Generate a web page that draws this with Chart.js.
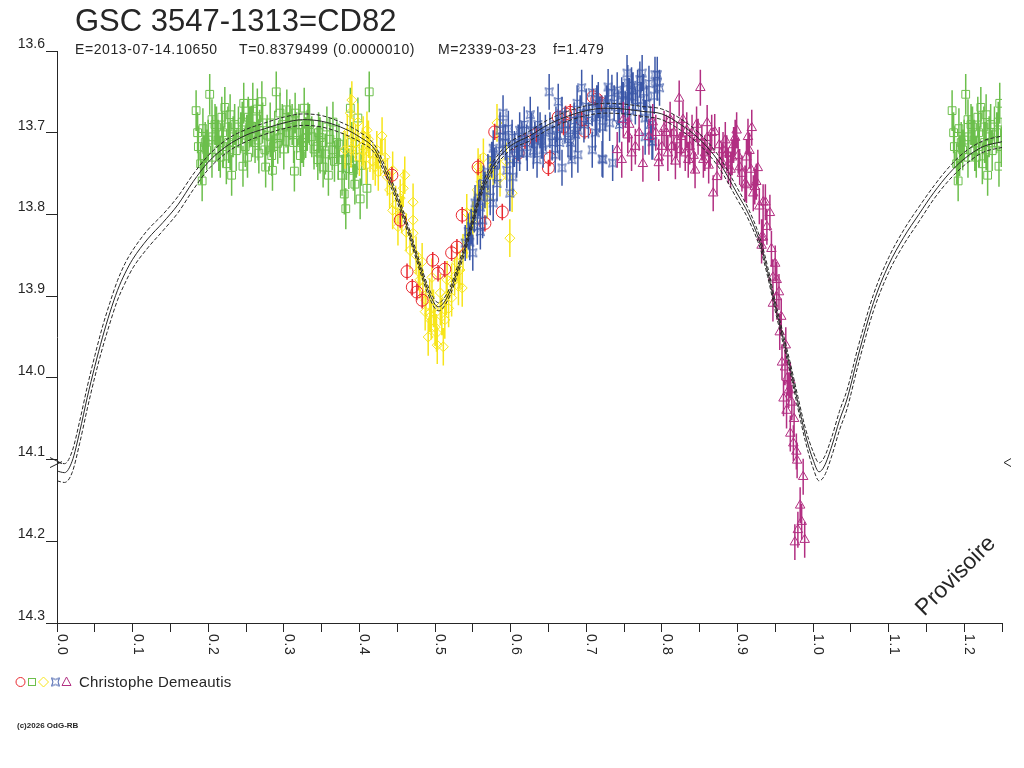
<!DOCTYPE html>
<html>
<head>
<meta charset="utf-8">
<title>GSC 3547-1313=CD82</title>
<script src="https://cdn.jsdelivr.net/npm/chart.js@4.4.1/dist/chart.umd.min.js"></script>
<style>
    html, body { margin: 0; padding: 0; background: #fff; }
    #wrap { position: relative; width: 1024px; height: 768px; }
</style>
</head>
<body>
<div id="wrap"><canvas id="lightCurve" width="1024" height="768"></canvas></div>
<script>
// Axis ticks
const xTickValues = [0, 0.05, 0.1, 0.15, 0.2, 0.25, 0.3, 0.35, 0.4, 0.45, 0.5, 0.55, 0.6,
    0.65, 0.7, 0.75, 0.8, 0.85, 0.9, 0.95, 1.0, 1.05, 1.1, 1.15, 1.2, 1.25];
const xLabelValues = [0, 0.1, 0.2, 0.3, 0.4, 0.5, 0.6, 0.7, 0.8, 0.9, 1.0, 1.1, 1.2];
const xLabels = ['0.0', '0.1', '0.2', '0.3', '0.4', '0.5', '0.6', '0.7', '0.8', '0.9', '1.0', '1.1', '1.2'];
const yTickValues = [13.6, 13.7, 13.8, 13.9, 14.0, 14.1, 14.2, 14.3];

// Model light curve (phase, mean, bright bound, faint bound)
const curvePhase = [0.000, 0.010, 0.020, 0.030, 0.040, 0.050, 0.060, 0.070, 0.080, 0.090, 0.100, 0.120,
    0.140, 0.160, 0.180, 0.200, 0.225, 0.250, 0.275, 0.300, 0.325, 0.350, 0.375, 0.400, 0.420, 0.435,
    0.450, 0.465, 0.480, 0.490, 0.500, 0.505, 0.510, 0.520, 0.530, 0.540, 0.550, 0.560, 0.570, 0.585,
    0.600, 0.625, 0.650, 0.675, 0.700, 0.725, 0.750, 0.775, 0.800, 0.825, 0.850, 0.875, 0.900, 0.915,
    0.930, 0.940, 0.950, 0.960, 0.970, 0.980, 0.990, 1.000, 1.008, 1.015, 1.025, 1.035, 1.045, 1.060,
    1.080, 1.100, 1.120, 1.140, 1.160, 1.180, 1.200, 1.225, 1.250];
const curveMid = [14.114, 14.116, 14.102, 14.066, 14.024, 13.986, 13.951, 13.920, 13.893, 13.872, 13.855, 13.830,
    13.810, 13.788, 13.760, 13.736, 13.716, 13.703, 13.695, 13.688, 13.684, 13.686, 13.693, 13.705, 13.720, 13.748,
    13.780, 13.820, 13.864, 13.891, 13.910, 13.913, 13.910, 13.894, 13.868, 13.840, 13.808, 13.775, 13.752, 13.730,
    13.716, 13.704, 13.690, 13.680, 13.673, 13.670, 13.671, 13.674, 13.677, 13.690, 13.708, 13.735, 13.775, 13.800,
    13.835, 13.870, 13.912, 13.950, 13.988, 14.030, 14.070, 14.100, 14.115, 14.108, 14.083, 14.052, 14.026, 13.972,
    13.908, 13.862, 13.828, 13.800, 13.773, 13.750, 13.732, 13.717, 13.711];
const curveBright = [14.103, 14.105, 14.090, 14.053, 14.011, 13.973, 13.938, 13.908, 13.881, 13.860, 13.844, 13.819,
    13.800, 13.778, 13.751, 13.728, 13.708, 13.696, 13.688, 13.681, 13.677, 13.679, 13.687, 13.699, 13.715, 13.743,
    13.775, 13.815, 13.859, 13.886, 13.905, 13.908, 13.905, 13.889, 13.863, 13.835, 13.803, 13.770, 13.747, 13.725,
    13.711, 13.698, 13.684, 13.674, 13.667, 13.664, 13.665, 13.668, 13.671, 13.683, 13.701, 13.728, 13.768, 13.794,
    13.829, 13.864, 13.906, 13.944, 13.982, 14.023, 14.062, 14.090, 14.104, 14.097, 14.072, 14.041, 14.015, 13.961,
    13.898, 13.853, 13.819, 13.791, 13.765, 13.742, 13.724, 13.710, 13.704];
const curveFaint = [14.126, 14.128, 14.116, 14.080, 14.038, 13.999, 13.964, 13.933, 13.905, 13.884, 13.866, 13.841,
    13.820, 13.798, 13.770, 13.745, 13.724, 13.711, 13.702, 13.695, 13.691, 13.693, 13.700, 13.711, 13.725, 13.753,
    13.785, 13.825, 13.869, 13.896, 13.915, 13.918, 13.915, 13.899, 13.873, 13.845, 13.813, 13.780, 13.757, 13.735,
    13.721, 13.710, 13.696, 13.686, 13.679, 13.676, 13.677, 13.680, 13.684, 13.697, 13.715, 13.742, 13.782, 13.807,
    13.841, 13.876, 13.918, 13.956, 13.994, 14.037, 14.078, 14.110, 14.126, 14.120, 14.095, 14.064, 14.038, 13.983,
    13.918, 13.871, 13.837, 13.809, 13.781, 13.758, 13.740, 13.724, 13.718];

// Observations: red circles
const redPhase = [0.443, 0.454, 0.463, 0.476, 0.483, 0.497, 0.504, 0.513, 0.522, 0.529, 0.536, 0.589,
    0.566, 0.579, 0.557, 0.673, 0.709, 0.720, 0.610, 0.619, 0.663, 0.679, 0.670, 0.652, 0.650, 0.698,
    0.714, 0.694, 0.634, 0.470];
const redMag = [13.752, 13.807, 13.870, 13.895, 13.905, 13.856, 13.872, 13.867, 13.847, 13.840, 13.801, 13.797,
    13.811, 13.699, 13.742, 13.677, 13.656, 13.664, 13.725, 13.710, 13.681, 13.675, 13.693, 13.731, 13.743, 13.698,
    13.659, 13.684, 13.702, 13.889];

// green squares
const greenPhase = [0.202, 0.184, 0.205, 0.193, 0.187, 0.190, 0.192, 0.205, 0.206, 0.218, 0.222, 0.229,
    0.231, 0.246, 0.247, 0.259, 0.271, 0.265, 0.264, 0.253, 0.240, 0.233, 0.220, 0.213, 0.251, 0.259,
    0.268, 0.276, 0.285, 0.290, 0.282, 0.295, 0.304, 0.308, 0.295, 0.303, 0.286, 0.315, 0.327, 0.314,
    0.324, 0.317, 0.331, 0.337, 0.344, 0.345, 0.352, 0.359, 0.365, 0.370, 0.377, 0.380, 0.394, 0.401,
    0.413, 0.398, 0.388, 0.383, 0.410, 0.392, 0.357, 0.348, 0.275, 0.282, 0.229, 0.216, 0.198, 0.196,
    0.211, 0.226, 0.245, 0.255, 0.266, 0.326, 0.332, 0.348, 0.364, 0.372, 0.382,
    0.186, 0.194, 0.200, 0.209, 0.214, 0.219, 0.224, 0.227, 0.235, 0.237, 0.243, 0.249, 0.252, 0.257,
    0.262, 0.267, 0.272, 0.278, 0.284, 0.288, 0.292, 0.298, 0.300, 0.306, 0.311, 0.313, 0.320, 0.322,
    0.329, 0.334, 0.340, 0.346, 0.351, 0.355, 0.361, 0.367, 0.373, 0.379, 0.386, 0.390, 0.396, 0.403];
const greenMag = [13.653, 13.673, 13.684, 13.695, 13.717, 13.738, 13.759, 13.730, 13.705, 13.681, 13.669, 13.678,
    13.752, 13.741, 13.664, 13.664, 13.662, 13.671, 13.683, 13.681, 13.693, 13.705, 13.717, 13.709, 13.703, 13.705,
    13.697, 13.742, 13.746, 13.650, 13.688, 13.676, 13.672, 13.684, 13.706, 13.693, 13.717, 13.676, 13.670, 13.747,
    13.712, 13.700, 13.697, 13.705, 13.717, 13.733, 13.742, 13.752, 13.687, 13.712, 13.752, 13.775, 13.763, 13.781,
    13.650, 13.682, 13.670, 13.733, 13.768, 13.746, 13.693, 13.725, 13.721, 13.705, 13.721, 13.730, 13.721, 13.712,
    13.693, 13.693, 13.687, 13.693, 13.709, 13.717, 13.688, 13.706, 13.721, 13.733, 13.793,
    13.700, 13.728, 13.709, 13.690, 13.722, 13.700, 13.738, 13.712, 13.690, 13.722, 13.700, 13.717, 13.730, 13.692,
    13.712, 13.725, 13.688, 13.703, 13.728, 13.698, 13.713, 13.690, 13.720, 13.700, 13.690, 13.712, 13.690, 13.728,
    13.706, 13.690, 13.720, 13.700, 13.712, 13.726, 13.708, 13.735, 13.714, 13.725, 13.744, 13.712, 13.730, 13.740];

// yellow diamonds
const yellowPhase = [0.388, 0.381, 0.398, 0.405, 0.430, 0.414, 0.421, 0.437, 0.458, 0.444, 0.451, 0.471,
    0.471, 0.467, 0.483, 0.478, 0.484, 0.493, 0.493, 0.500, 0.491, 0.511, 0.513, 0.507, 0.522, 0.522,
    0.536, 0.533, 0.537, 0.542, 0.550, 0.556, 0.556, 0.557, 0.573, 0.569, 0.582, 0.602, 0.599, 0.460,
    0.471, 0.454, 0.496, 0.507, 0.487, 0.516, 0.529, 0.542, 0.560, 0.564, 0.423, 0.404, 0.410, 0.392,
    0.444, 0.434, 0.503, 0.390,
    0.384, 0.389, 0.395, 0.400, 0.406, 0.409, 0.412, 0.418, 0.425, 0.428, 0.440, 0.448, 0.456, 0.462,
    0.475, 0.480, 0.488, 0.495, 0.498, 0.502, 0.509, 0.515, 0.518, 0.526, 0.531, 0.546, 0.552, 0.561,
    0.566, 0.577, 0.586, 0.594];
const yellowMag = [13.676, 13.721, 13.687, 13.703, 13.704, 13.725, 13.742, 13.754, 13.768, 13.795, 13.815, 13.807,
    13.823, 13.844, 13.858, 13.870, 13.890, 13.901, 13.921, 13.938, 13.950, 13.962, 13.929, 13.913, 13.902, 13.883,
    13.890, 13.868, 13.847, 13.831, 13.807, 13.791, 13.770, 13.742, 13.752, 13.782, 13.688, 13.774, 13.829, 13.752,
    13.785, 13.780, 13.877, 13.896, 13.919, 13.880, 13.859, 13.798, 13.749, 13.730, 13.721, 13.717, 13.697, 13.705,
    13.746, 13.730, 13.960, 13.660,
    13.700, 13.720, 13.712, 13.730, 13.722, 13.740, 13.708, 13.735, 13.748, 13.730, 13.770, 13.788, 13.800, 13.822,
    13.850, 13.880, 13.905, 13.930, 13.915, 13.945, 13.925, 13.900, 13.915, 13.876, 13.888, 13.820, 13.795, 13.760,
    13.770, 13.742, 13.755, 13.735];

// blue stars
const bluePhase = [0.651, 0.663, 0.694, 0.729, 0.734, 0.741, 0.754, 0.760, 0.774, 0.794, 0.747, 0.762,
    0.708, 0.714, 0.722, 0.688, 0.689, 0.679, 0.708, 0.721, 0.735, 0.689, 0.681, 0.668, 0.659, 0.643,
    0.632, 0.628, 0.626, 0.612, 0.610, 0.602, 0.590, 0.590, 0.577, 0.575, 0.599, 0.608, 0.603, 0.599,
    0.582, 0.573, 0.577, 0.560, 0.553, 0.560, 0.546, 0.540, 0.550, 0.612, 0.639, 0.652, 0.668, 0.714,
    0.718, 0.742, 0.755, 0.778, 0.778, 0.788, 0.708, 0.755, 0.771, 0.762, 0.780, 0.727, 0.679, 0.665,
    0.635, 0.622, 0.590, 0.586, 0.595, 0.564, 0.563, 0.556, 0.544, 0.791, 0.794, 0.787, 0.722,
    0.548, 0.552, 0.558, 0.566, 0.570, 0.579, 0.585, 0.593, 0.597, 0.605, 0.615, 0.618, 0.621, 0.630,
    0.636, 0.641, 0.646, 0.655, 0.660, 0.662, 0.672, 0.676, 0.684, 0.686, 0.692, 0.697, 0.700, 0.703,
    0.712, 0.716, 0.725, 0.731, 0.737, 0.744, 0.749, 0.752, 0.757, 0.765, 0.768, 0.772, 0.776, 0.783,
    0.785, 0.790, 0.797];
const blueMag = [13.650, 13.662, 13.645, 13.644, 13.651, 13.648, 13.627, 13.642, 13.627, 13.629, 13.654, 13.656,
    13.670, 13.681, 13.693, 13.664, 13.697, 13.697, 13.721, 13.732, 13.737, 13.727, 13.733, 13.743, 13.727, 13.721,
    13.709, 13.697, 13.678, 13.697, 13.712, 13.706, 13.688, 13.705, 13.719, 13.733, 13.733, 13.733, 13.754, 13.774,
    13.762, 13.779, 13.786, 13.791, 13.786, 13.821, 13.834, 13.835, 13.847, 13.725, 13.697, 13.697, 13.678, 13.664,
    13.678, 13.669, 13.681, 13.682, 13.705, 13.711, 13.651, 13.639, 13.635, 13.648, 13.664, 13.664, 13.712, 13.712,
    13.733, 13.725, 13.676, 13.697, 13.746, 13.762, 13.807, 13.815, 13.821, 13.629, 13.639, 13.711, 13.733,
    13.815, 13.800, 13.780, 13.770, 13.748, 13.740, 13.722, 13.712, 13.695, 13.720, 13.708, 13.690, 13.712, 13.722,
    13.690, 13.710, 13.700, 13.712, 13.690, 13.703, 13.690, 13.708, 13.685, 13.702, 13.676, 13.690, 13.668, 13.685,
    13.700, 13.660, 13.676, 13.688, 13.664, 13.690, 13.660, 13.672, 13.655, 13.668, 13.645, 13.660, 13.650, 13.640,
    13.690, 13.655, 13.645];

// purple triangles
const purplePhase = [0.851, 0.823, 0.749, 0.765, 0.741, 0.755, 0.747, 0.796, 0.796, 0.788, 0.811, 0.806,
    0.820, 0.828, 0.835, 0.844, 0.846, 0.860, 0.870, 0.853, 0.864, 0.873, 0.868, 0.884, 0.893, 0.899,
    0.897, 0.919, 0.914, 0.912, 0.903, 0.910, 0.923, 0.927, 0.921, 0.934, 0.943, 0.934, 0.888, 0.881,
    0.833, 0.813, 0.800, 0.837, 0.860, 0.855, 0.824, 0.912, 0.937, 0.932, 0.932, 0.947, 0.952, 0.952,
    0.947, 0.956, 0.959, 0.963, 0.970, 0.961, 0.965, 0.972, 0.970, 0.974, 0.979, 0.987, 0.983, 0.985,
    0.980, 0.976, 0.989,
    0.757, 0.760, 0.770, 0.775, 0.783, 0.792, 0.803, 0.808, 0.816, 0.818, 0.826, 0.831, 0.840, 0.842,
    0.848, 0.857, 0.862, 0.866, 0.876, 0.879, 0.886, 0.891, 0.895, 0.901, 0.906, 0.916, 0.918, 0.925,
    0.929, 0.939, 0.945, 0.950, 0.955, 0.958, 0.964, 0.966, 0.968, 0.975, 0.978];
const purpleMag = [13.645, 13.658, 13.684, 13.717, 13.721, 13.703, 13.733, 13.730, 13.737, 13.687, 13.684, 13.700,
    13.709, 13.684, 13.733, 13.746, 13.690, 13.688, 13.699, 13.712, 13.721, 13.754, 13.774, 13.709, 13.730, 13.697,
    13.706, 13.694, 13.705, 13.730, 13.742, 13.762, 13.766, 13.743, 13.774, 13.785, 13.798, 13.828, 13.740, 13.721,
    13.697, 13.717, 13.717, 13.717, 13.706, 13.733, 13.721, 13.764, 13.785, 13.828, 13.838, 13.877, 13.880, 13.901,
    13.909, 13.944, 13.981, 13.987, 14.003, 14.025, 14.040, 14.030, 14.068, 14.080, 14.101, 14.121, 14.156, 14.176,
    14.186, 14.201, 14.198,
    13.690, 13.725, 13.700, 13.738, 13.705, 13.700, 13.695, 13.725, 13.700, 13.735, 13.705, 13.725, 13.700, 13.728,
    13.705, 13.725, 13.740, 13.700, 13.715, 13.735, 13.725, 13.745, 13.715, 13.728, 13.750, 13.722, 13.745, 13.760,
    13.790, 13.815, 13.842, 13.860, 13.895, 13.925, 13.960, 14.000, 14.015, 14.050, 14.090];

// Typical photometric error per observer series (mag)
const redErr = 0.010;
const greenErr = 0.025;
const yellowErr = 0.023;
const blueErr = 0.022;
const purpleErr = 0.022;

const X_MIN = 0;
const X_MAX = 1.25;
const FONT = '"Liberation Sans", Arial, sans-serif';

const COLORS = {
    red: '#e8282f',
    green: '#6cbf4c',
    yellow: '#f7e51b',
    blue: '#3c58a8',
    purple: '#b22f82',
    ink: '#262626'
};

// Points for one series; phases below 0.25 are repeated one cycle later
function toPoints(phases, mags) {
    const points = phases.map((p, i) => ({ x: p, y: mags[i] }));
    phases.forEach((p, i) => {
        if (p + 1 <= X_MAX) points.push({ x: p + 1, y: mags[i] });
    });
    return points;
}

function curvePoints(mags) {
    return curvePhase.map((p, i) => ({ x: p, y: mags[i] }));
}

// Blue marker: concave square
function makeBlueMarker(color) {
    const c = document.createElement('canvas');
    c.width = 11;
    c.height = 11;
    const g = c.getContext('2d');
    g.strokeStyle = color;
    g.lineWidth = 1;
    g.beginPath();
    g.moveTo(1.5, 1.5);
    g.quadraticCurveTo(5.5, 4.5, 9.5, 1.5);
    g.quadraticCurveTo(6.5, 5.5, 9.5, 9.5);
    g.quadraticCurveTo(5.5, 6.5, 1.5, 9.5);
    g.quadraticCurveTo(4.5, 5.5, 1.5, 1.5);
    g.stroke();
    return c;
}
const blueMarker = makeBlueMarker(COLORS.blue);

function seriesDataset(label, phases, mags, color, style, radius, err, order) {
    return {
        label: label,
        data: toPoints(phases, mags),
        err: err,
        order: order,
        pointStyle: style,
        pointRadius: radius,
        pointBorderWidth: 1,
        borderColor: color,
        backgroundColor: 'rgba(0,0,0,0)',
        pointBackgroundColor: 'rgba(0,0,0,0)',
        showLine: false
    };
}

function curveDataset(mags, dash) {
    return {
        label: 'model',
        data: curvePoints(mags),
        showLine: true,
        order: 0,
        pointRadius: 0,
        borderWidth: 1,
        borderColor: COLORS.ink,
        borderDash: dash,
        cubicInterpolationMode: 'monotone',
        fill: false
    };
}

// Vertical error bars, drawn just before each series' markers
const errorBars = {
    id: 'errorBars',
    beforeDatasetDraw(chart, args) {
        const ds = chart.data.datasets[args.index];
        if (!ds.err) return;
        const xs = chart.scales.x;
        const ys = chart.scales.y;
        const area = chart.chartArea;
        const ctx = chart.ctx;
        ctx.save();
        ctx.beginPath();
        ctx.rect(area.left, area.top, area.right - area.left, area.bottom - area.top);
        ctx.clip();
        ctx.strokeStyle = ds.borderColor;
        ctx.lineWidth = 1.5;
        ctx.beginPath();
        ds.data.forEach(p => {
            const px = xs.getPixelForValue(p.x);
            ctx.moveTo(px, ys.getPixelForValue(p.y - ds.err));
            ctx.lineTo(px, ys.getPixelForValue(p.y + ds.err));
        });
        ctx.stroke();
        ctx.restore();
    }
};

// Titles, rotated phase labels, legend and notes
const decorations = {
    id: 'decorations',
    afterDraw(chart) {
        const ctx = chart.ctx;
        const xs = chart.scales.x;
        const ys = chart.scales.y;
        const bottom = chart.chartArea.bottom;
        ctx.save();
        ctx.fillStyle = COLORS.ink;

        // Title
        ctx.font = '31px ' + FONT;
        ctx.textBaseline = 'alphabetic';
        ctx.textAlign = 'left';
        ctx.fillText('GSC 3547-1313=CD82', 75, 31);

        // Ephemeris line
        ctx.font = '14px ' + FONT;
        if ('letterSpacing' in ctx) ctx.letterSpacing = '0.6px';
        ctx.fillText('E=2013-07-14.10650', 75, 54);
        ctx.fillText('T=0.8379499 (0.0000010)', 239, 54);
        ctx.fillText('M=2339-03-23', 438, 54);
        ctx.fillText('f=1.479', 553, 54);

        // Phase labels, reading downwards
        xLabelValues.forEach((v, i) => {
            const px = xs.getPixelForValue(v);
            ctx.save();
            ctx.translate(px + 1, bottom + 11);
            ctx.rotate(Math.PI / 2);
            ctx.textAlign = 'left';
            ctx.textBaseline = 'alphabetic';
            ctx.fillText(xLabels[i], 0, 0);
            ctx.restore();
        });
        if ('letterSpacing' in ctx) ctx.letterSpacing = '0px';

        // Edge markers at the minimum level
        const yMin = ys.getPixelForValue(14.1) + 3;
        ctx.strokeStyle = COLORS.ink;
        ctx.lineWidth = 1;
        ctx.beginPath();
        ctx.moveTo(50, yMin - 5);
        ctx.lineTo(62, yMin + 1);
        ctx.moveTo(50, yMin + 5);
        ctx.lineTo(62, yMin - 1);
        ctx.moveTo(1011, yMin - 4);
        ctx.lineTo(1004, yMin);
        ctx.lineTo(1011, yMin + 4);
        ctx.stroke();

        // Legend symbols
        const ly = 682;
        ctx.lineWidth = 1;
        ctx.strokeStyle = COLORS.red;
        ctx.beginPath();
        ctx.arc(20.5, ly, 4.5, 0, Math.PI * 2);
        ctx.stroke();
        ctx.strokeStyle = COLORS.green;
        ctx.strokeRect(28.5, ly - 3.5, 7, 7);
        ctx.strokeStyle = COLORS.yellow;
        ctx.beginPath();
        ctx.moveTo(43.5, ly - 5);
        ctx.lineTo(48.5, ly);
        ctx.lineTo(43.5, ly + 5);
        ctx.lineTo(38.5, ly);
        ctx.closePath();
        ctx.stroke();
        ctx.drawImage(blueMarker, 50, ly - 5.5);
        ctx.strokeStyle = COLORS.purple;
        ctx.beginPath();
        ctx.moveTo(66.5, ly - 5);
        ctx.lineTo(71, ly + 3.5);
        ctx.lineTo(62, ly + 3.5);
        ctx.closePath();
        ctx.stroke();

        ctx.fillStyle = COLORS.ink;
        ctx.font = '15px ' + FONT;
        ctx.textAlign = 'left';
        if ('letterSpacing' in ctx) ctx.letterSpacing = '0.2px';
        ctx.fillText('Christophe Demeautis', 79, 687);
        if ('letterSpacing' in ctx) ctx.letterSpacing = '0px';

        // Copyright
        ctx.font = 'bold 8px ' + FONT;
        ctx.fillText('(c)2026 OdG-RB', 17, 728);

        // Provisional stamp
        ctx.save();
        ctx.translate(956, 576);
        ctx.rotate(-Math.PI / 4);
        ctx.font = '23px ' + FONT;
        ctx.textAlign = 'center';
        ctx.textBaseline = 'middle';
        ctx.fillText('Provisoire', 0, 0);
        ctx.restore();

        ctx.restore();
    }
};

const ctx = document.getElementById('lightCurve').getContext('2d');
window.lightCurveChart = new Chart(ctx, {
    type: 'scatter',
    data: {
        datasets: [
            curveDataset(curveMid, []),
            curveDataset(curveBright, [4, 2]),
            curveDataset(curveFaint, [4, 2]),
            seriesDataset('purple', purplePhase, purpleMag, COLORS.purple, 'triangle', 5.5, purpleErr, 1),
            seriesDataset('blue', bluePhase, blueMag, COLORS.blue, blueMarker, 5, blueErr, 2),
            seriesDataset('red', redPhase, redMag, COLORS.red, 'circle', 6, redErr, 3),
            seriesDataset('yellow', yellowPhase, yellowMag, COLORS.yellow, 'rectRot', 5, yellowErr, 4),
            seriesDataset('green', greenPhase, greenMag, COLORS.green, 'rect', 5.5, greenErr, 5)
        ]
    },
    options: {
        responsive: false,
        devicePixelRatio: 1,
        animation: false,
        events: [],
        layout: {
            padding: { top: 51, right: 22, bottom: 0, left: 0 }
        },
        plugins: {
            legend: { display: false },
            tooltip: { enabled: false },
            title: { display: false }
        },
        scales: {
            x: {
                type: 'linear',
                min: X_MIN,
                max: X_MAX,
                afterBuildTicks: scale => {
                    scale.ticks = xTickValues.map(v => ({ value: v }));
                },
                afterFit: scale => {
                    scale.height = 145;
                },
                ticks: { display: false },
                grid: {
                    drawOnChartArea: false,
                    drawTicks: true,
                    tickLength: 9,
                    color: COLORS.ink,
                    lineWidth: 1
                },
                border: { color: COLORS.ink, width: 1 }
            },
            y: {
                type: 'linear',
                reverse: true,
                min: 13.6,
                max: 14.3,
                afterBuildTicks: scale => {
                    scale.ticks = yTickValues.map(v => ({ value: v }));
                },
                afterFit: scale => {
                    scale.width = 57;
                },
                ticks: {
                    callback: v => Number(v).toFixed(1),
                    font: { family: FONT, size: 14 },
                    color: COLORS.ink,
                    padding: 1,
                    labelOffset: -7
                },
                grid: {
                    drawOnChartArea: false,
                    drawTicks: true,
                    tickLength: 11,
                    color: COLORS.ink,
                    lineWidth: 1
                },
                border: { color: COLORS.ink, width: 1 }
            }
        }
    },
    plugins: [errorBars, decorations]
});
</script>
</body>
</html>
